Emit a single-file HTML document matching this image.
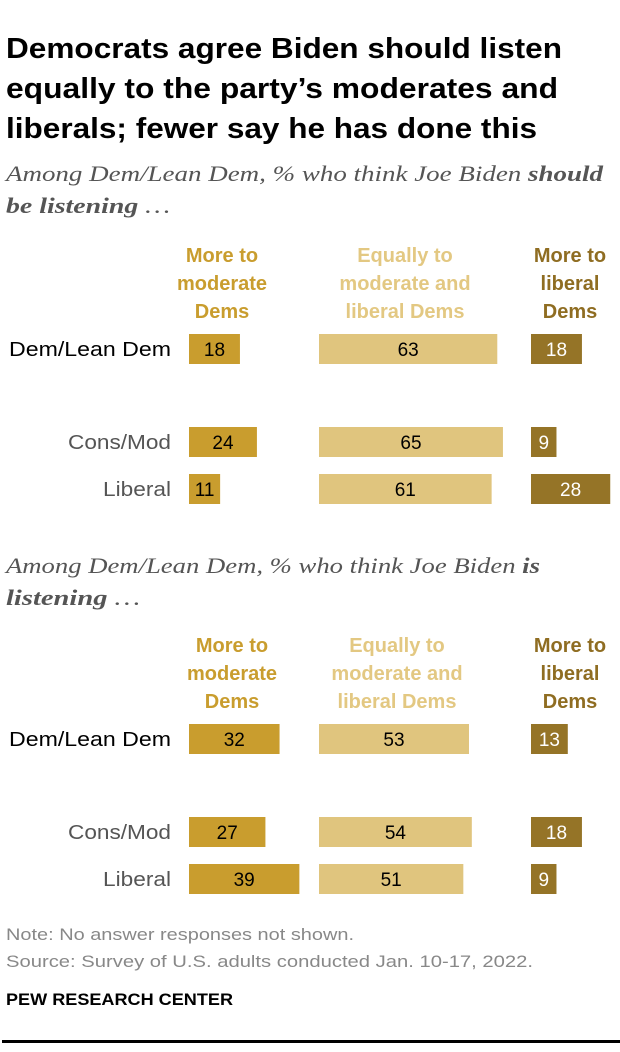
<!DOCTYPE html>
<html><head><meta charset="utf-8"><style>
body{margin:0;background:#fff;}
svg{display:block;}
.t{font-family:"Liberation Sans",sans-serif;font-weight:bold;font-size:29px;fill:#000;}
.s{font-family:"Liberation Serif",serif;font-style:italic;font-size:22px;fill:#555;}
.h{font-family:"Liberation Sans",sans-serif;font-weight:bold;font-size:20px;text-anchor:middle;}
.r{font-family:"Liberation Sans",sans-serif;font-size:20px;text-anchor:end;}
.v{font-family:"Liberation Sans",sans-serif;font-size:19px;text-anchor:middle;}
.n{font-family:"Liberation Sans",sans-serif;font-size:17px;fill:#888;}
</style></head><body>
<svg id="c" width="620" height="1052">
<text class="t" x="6" y="58" textLength="556" lengthAdjust="spacingAndGlyphs">Democrats agree Biden should listen</text>
<text class="t" x="6" y="98" textLength="552" lengthAdjust="spacingAndGlyphs">equally to the party’s moderates and</text>
<text class="t" x="6" y="138" textLength="531" lengthAdjust="spacingAndGlyphs">liberals; fewer say he has done this</text>
<text class="s" x="6" y="181" textLength="597" lengthAdjust="spacingAndGlyphs">Among Dem/Lean Dem, % who think Joe Biden <tspan font-weight="bold">should</tspan></text>
<text class="s" x="6" y="213" textLength="164" lengthAdjust="spacingAndGlyphs"><tspan font-weight="bold">be listening</tspan> …</text>
<text class="s" x="6" y="573" textLength="534" lengthAdjust="spacingAndGlyphs">Among Dem/Lean Dem, % who think Joe Biden <tspan font-weight="bold">is</tspan></text>
<text class="s" x="6" y="605" textLength="134" lengthAdjust="spacingAndGlyphs"><tspan font-weight="bold">listening</tspan> …</text>
<text class="n" x="6" y="940" textLength="348" lengthAdjust="spacingAndGlyphs">Note: No answer responses not shown.</text>
<text class="n" x="6" y="967" textLength="527" lengthAdjust="spacingAndGlyphs">Source: Survey of U.S. adults conducted Jan. 10-17, 2022.</text>
<text x="6" y="1005" font-family="Liberation Sans, sans-serif" font-weight="bold" font-size="17" textLength="227" lengthAdjust="spacingAndGlyphs">PEW RESEARCH CENTER</text>
<rect x="2" y="1040" width="618" height="3" fill="#000"></rect>
</svg>
<script>
const groups=["Dem/Lean Dem","Cons/Mod","Liberal"];
const shouldModerate=[18,24,11];
const shouldEqual=[63,65,61];
const shouldLiberal=[18,9,28];
const isModerate=[32,27,39];
const isEqual=[53,54,51];
const isLiberal=[13,18,9];
const headers=[["More to","moderate","Dems"],["Equally to","moderate and","liberal Dems"],["More to","liberal","Dems"]];
const labelLen=[162,103,68];
const svg=document.getElementById('c');
const NS="http://www.w3.org/2000/svg";
const colStart=[189,319,531];
const fills=["#c99d2e","#e0c57e","#957427"];
const hdrFill=["#c99d2e","#e3c882","#8f6d22"];
const scale=v=>v*2.83;
function mk(tag,attrs){const e=document.createElementNS(NS,tag);for(const k in attrs)e.setAttribute(k,attrs[k]);svg.appendChild(e);return e;}
function panel(series,rowY,hdrY,hdrX,prefix){
  headers.forEach((lines,ci)=>{lines.forEach((ln,li)=>{
    const t=mk('text',{class:'h',x:hdrX[ci],y:hdrY+li*28,fill:hdrFill[ci]});
    t.textContent=ln;
    
    
  });});
  groups.forEach((g,ri)=>{
    const y=rowY[ri];
    const l=mk('text',{class:'r',x:171,y:y+7,fill:ri===0?'#000':'#555',textLength:labelLen[ri],lengthAdjust:'spacingAndGlyphs'});
    l.textContent=g;
    
    
    series.forEach((s,ci)=>{
      const w=scale(s[ri]);
      const r=mk('rect',{x:colStart[ci],y:y-15,width:w,height:30,fill:fills[ci]});
      
      
      const t=mk('text',{class:'v',x:colStart[ci]+w/2,y:y+7,fill:ci===2?'#fff':'#000'});
      t.textContent=s[ri];
      
      
    });
  });
}
panel([shouldModerate,shouldEqual,shouldLiberal],[349,442,489],262,[222,405,570],'should');
panel([isModerate,isEqual,isLiberal],[739,832,879],652,[232,397,570],'is');
</script>
</body></html>
